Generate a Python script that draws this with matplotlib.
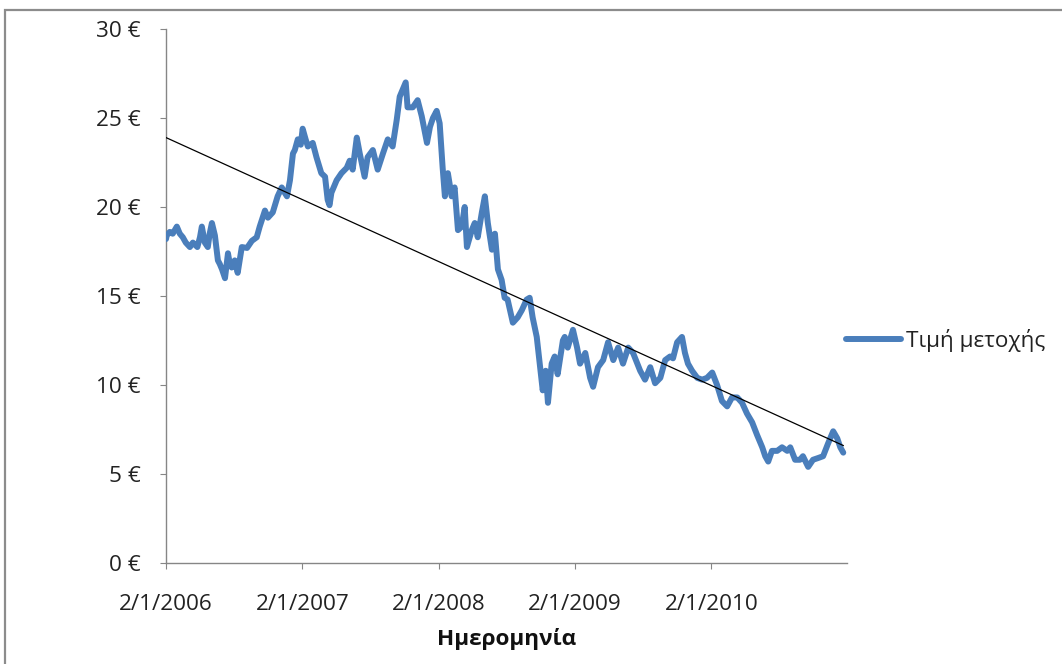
import matplotlib
matplotlib.use("Agg")
import matplotlib.pyplot as plt
from matplotlib.patches import Rectangle
import numpy as np
import pandas as pd

plt.rcParams['font.family'] = ['Open Sans', 'DejaVu Sans']

# ---- data ----
dates_2006 = ["2006-01-02", "2006-01-04", "2006-01-12", "2006-01-20", "2006-01-31", "2006-02-08",
              "2006-02-16", "2006-02-24", "2006-03-07", "2006-03-15", "2006-03-20", "2006-03-27",
              "2006-04-03", "2006-04-08", "2006-04-16", "2006-04-24", "2006-04-29", "2006-05-05",
              "2006-05-13", "2006-05-21", "2006-05-26", "2006-06-01", "2006-06-09", "2006-06-17",
              "2006-06-22", "2006-06-27", "2006-07-05", "2006-07-13", "2006-07-24", "2006-08-07",
              "2006-08-20", "2006-09-02", "2006-09-10", "2006-09-24", "2006-10-02", "2006-10-15",
              "2006-10-28", "2006-11-08", "2006-11-16", "2006-11-22", "2006-11-30", "2006-12-08",
              "2006-12-13", "2006-12-21", "2006-12-29"]
price_2006 = [18.2, 18.4, 18.6, 18.5, 18.9, 18.5,
              18.3, 18.0, 17.75, 18.0, 17.9, 17.75,
              18.3, 18.9, 18.0, 17.75, 18.5, 19.1,
              18.4, 17.0, 16.8, 16.5, 16.0, 17.4,
              16.8, 16.6, 17.0, 16.3, 17.75, 17.7,
              18.1, 18.3, 18.9, 19.8, 19.4, 19.7,
              20.6, 21.1, 20.8, 20.6, 21.5, 23.0,
              23.2, 23.8, 23.5]

dates_2007 = ["2007-01-03", "2007-01-11", "2007-01-17", "2007-01-30", "2007-02-09", "2007-02-22",
              "2007-03-04", "2007-03-11", "2007-03-16", "2007-03-21", "2007-04-04", "2007-04-17",
              "2007-05-01", "2007-05-09", "2007-05-17", "2007-05-28", "2007-06-05", "2007-06-18",
              "2007-06-26", "2007-07-10", "2007-07-23", "2007-08-06", "2007-08-19", "2007-09-01",
              "2007-09-12", "2007-09-20", "2007-09-28", "2007-10-06", "2007-10-11", "2007-10-25",
              "2007-11-07", "2007-11-18", "2007-12-02", "2007-12-10", "2007-12-18", "2007-12-28"]
price_2007 = [24.4, 23.8, 23.4, 23.6, 22.8, 21.9,
              21.7, 20.4, 20.1, 20.8, 21.5, 21.9,
              22.2, 22.6, 22.1, 23.9, 23.0, 21.7,
              22.8, 23.2, 22.1, 23.0, 23.8, 23.4,
              24.9, 26.2, 26.6, 27.0, 25.6, 25.6,
              26.0, 25.1, 23.6, 24.5, 25.0, 25.4]

dates_2008 = ["2008-01-05", "2008-01-13", "2008-01-19", "2008-01-27", "2008-02-06", "2008-02-14",
              "2008-02-23", "2008-03-04", "2008-03-12", "2008-03-18", "2008-03-31", "2008-04-08",
              "2008-04-16", "2008-04-27", "2008-05-05", "2008-05-13", "2008-05-24", "2008-06-01",
              "2008-06-09", "2008-06-19", "2008-06-27", "2008-07-05", "2008-07-19", "2008-08-01",
              "2008-08-12", "2008-08-25", "2008-09-02", "2008-09-10", "2008-09-21", "2008-09-29",
              "2008-10-07", "2008-10-15", "2008-10-21", "2008-10-31", "2008-11-08", "2008-11-16",
              "2008-11-30", "2008-12-05", "2008-12-13", "2008-12-27"]
price_2008 = [24.7, 22.2, 20.6, 21.9, 20.6, 21.1,
              18.7, 18.9, 20.0, 17.75, 18.7, 19.1,
              18.3, 19.7, 20.6, 19.1, 17.6, 18.5,
              16.5, 15.9, 14.9, 14.8, 13.5, 13.8,
              14.2, 14.8, 14.9, 13.8, 12.7, 11.2,
              9.7, 10.8, 9.0, 11.2, 11.6, 10.6,
              12.5, 12.7, 12.1, 13.1]

dates_2009 = ["2009-01-07", "2009-01-15", "2009-01-29", "2009-02-11", "2009-02-19", "2009-03-04",
              "2009-03-18", "2009-03-31", "2009-04-14", "2009-04-27", "2009-05-10", "2009-05-24",
              "2009-06-06", "2009-06-25", "2009-07-08", "2009-07-22", "2009-08-04", "2009-08-18",
              "2009-08-31", "2009-09-13", "2009-09-21", "2009-10-02", "2009-10-15", "2009-10-23",
              "2009-10-31", "2009-11-11", "2009-11-25", "2009-12-08", "2009-12-21"]
price_2009 = [12.1, 11.2, 11.8, 10.4, 9.9, 11.0,
              11.4, 12.4, 11.4, 12.1, 11.2, 12.1,
              11.8, 10.8, 10.3, 11.0, 10.1, 10.4,
              11.4, 11.6, 11.5, 12.4, 12.7, 11.8,
              11.2, 10.8, 10.4, 10.3, 10.4]

dates_2010 = ["2010-01-04", "2010-01-17", "2010-01-30", "2010-02-13", "2010-02-26", "2010-03-12",
              "2010-03-25", "2010-04-07", "2010-04-21", "2010-05-04", "2010-05-18", "2010-05-26",
              "2010-06-03", "2010-06-13", "2010-06-27", "2010-07-10", "2010-07-24", "2010-08-01",
              "2010-08-14", "2010-08-27", "2010-09-04", "2010-09-18", "2010-10-01", "2010-10-15",
              "2010-10-28", "2010-11-10", "2010-11-24", "2010-12-05", "2010-12-13", "2010-12-21"]
price_2010 = [10.7, 10.0, 9.1, 8.8, 9.3, 9.3,
              9.0, 8.4, 7.9, 7.2, 6.5, 6.0,
              5.7, 6.3, 6.3, 6.5, 6.3, 6.5,
              5.8, 5.8, 6.0, 5.4, 5.8, 5.9,
              6.0, 6.7, 7.4, 7.0, 6.5, 6.2]

# linear trend line as drawn in the reference (start / end values)
trend_dates = ["2006-01-02", "2010-12-21"]
trend_values = [23.9, 6.6]

series_label = "Τιμή μετοχής"
x_label = "Ημερομηνία"
x_tick_dates = ["2006-01-02", "2007-01-02", "2008-01-02", "2009-01-02", "2010-01-02"]
y_ticks = [0, 5, 10, 15, 20, 25, 30]

# ---- build ----
dates = pd.to_datetime(dates_2006 + dates_2007 + dates_2008 + dates_2009 + dates_2010)
price = np.array(price_2006 + price_2007 + price_2008 + price_2009 + price_2010)

W, H = 1062, 664
fig = plt.figure(figsize=(W / 100, H / 100), dpi=100)
ax = fig.add_axes([166 / W, 1 - 563 / H, (847 - 166) / W, (563 - 29) / H])

blue = "#4A7EBB"
ax.plot(dates, price, color=blue, lw=4.3, solid_joinstyle="round",
        solid_capstyle="round", label=series_label, zorder=3)

ax.plot(pd.to_datetime(trend_dates), trend_values, color="black", lw=0.9, zorder=4)

ax.set_xlim(pd.Timestamp("2006-01-02"), pd.Timestamp("2010-12-31"))
ax.set_ylim(0, 30)
ax.set_yticks(y_ticks)
ax.set_yticklabels([f"{v} €" for v in y_ticks])
xt_d = pd.to_datetime(x_tick_dates)
ax.set_xticks(xt_d)
ax.set_xticklabels([f"{d.day}/{d.month}/{d.year}" for d in xt_d])

for s in ["top", "right"]:
    ax.spines[s].set_visible(False)
for s in ["left", "bottom"]:
    ax.spines[s].set_color("#868686")
    ax.spines[s].set_linewidth(1.0)

FS = 16.2
ax.tick_params(axis="y", direction="out", length=4.5, color="#868686", pad=14,
               labelsize=FS, labelcolor="#222222")
ax.tick_params(axis="x", direction="out", length=4.5, color="#868686", pad=17.5,
               labelsize=FS, labelcolor="#222222")

ax.set_xlabel(x_label, fontsize=FS, fontweight="bold", labelpad=10, color="#111111")

leg = fig.legend(handles=ax.get_lines()[:1], labels=[series_label],
                 loc="center left", bbox_to_anchor=(826 / W, 1 - 340 / H),
                 frameon=False, fontsize=FS, handlelength=2.45, handletextpad=0.2)
for t in leg.get_texts():
    t.set_color("#222222")

# chart-area border (partly visible)
fig.patches.append(Rectangle((5 / W, -0.2), 2.0, 1.2 - 10 / H,
                             transform=fig.transFigure, fill=False,
                             edgecolor="#8C8C8C", lw=1.6))

fig.savefig("out.png", dpi=100)
